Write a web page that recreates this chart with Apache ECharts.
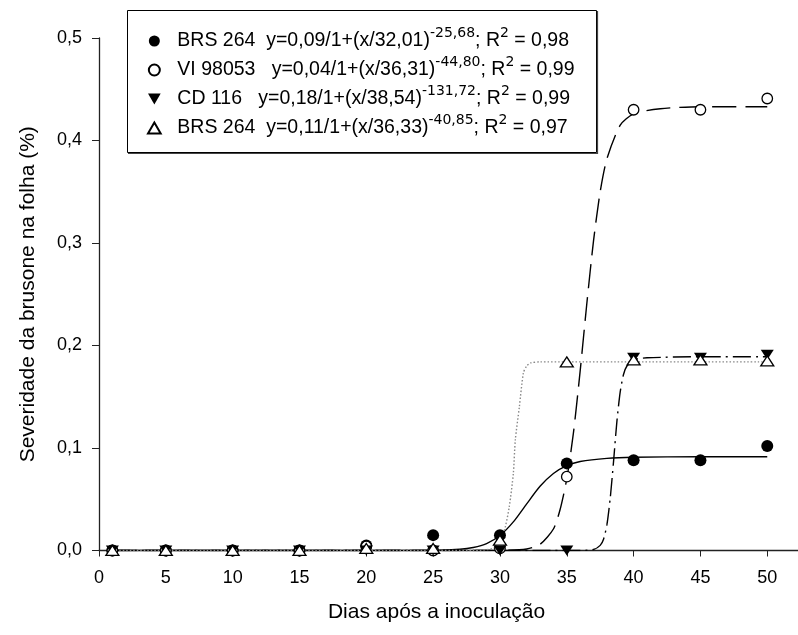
<!DOCTYPE html>
<html>
<head>
<meta charset="utf-8">
<script src="https://cdn.jsdelivr.net/npm/echarts@6/dist/echarts.min.js"></script>
<style>html,body{margin:0;padding:0;background:#fff}#c{width:798px;height:635px}</style>
</head>
<body>
<div id="c"></div>
<script>
// ---- observed data ----
const days = [1, 5, 10, 15, 20, 25, 30, 35, 40, 45, 50];
const brs264a = [0, 0, 0, 0, 0.005, 0.015, 0.015, 0.085, 0.088, 0.088, 0.102];
const vi98053 = [0, 0, 0, 0, 0.004, 0, 0.002, 0.072, 0.430, 0.430, 0.441];
const cd116   = [0, 0, 0, 0, 0, 0, 0, 0, 0.188, 0.188, 0.191];
const brs264b = [0, 0, 0, 0, 0.002, 0.002, 0.010, 0.184, 0.186, 0.186, 0.185];

// ---- fitted curves ----
const fitX1 = [1, 20, 25, 27, 28, 29, 30, 31, 32, 33, 34, 35, 36, 38, 40, 45, 50];
const fitY1 = [0, 0, 0.0002, 0.0012, 0.0029, 0.0067, 0.0146, 0.0279, 0.0455, 0.0626, 0.0751, 0.0827, 0.0868, 0.0899, 0.0910, 0.0915, 0.0915];
const fitX2 = [1, 30, 32, 33, 34, 34.5, 35, 35.5, 36, 36.5, 37, 37.5, 38, 39, 40, 42, 45, 50];
const fitY2 = [0, 0.0001, 0.0015, 0.006, 0.021, 0.040, 0.070, 0.115, 0.175, 0.241, 0.302, 0.350, 0.382, 0.415, 0.426, 0.431, 0.433, 0.433];
const fitX3 = [1, 36, 37, 37.5, 37.75, 38, 38.25, 38.5, 38.75, 39, 39.25, 39.5, 40, 41, 45, 50];
const fitY3 = [0, 0, 0.001, 0.005, 0.011, 0.025, 0.051, 0.087, 0.126, 0.155, 0.172, 0.180, 0.186, 0.188, 0.189, 0.189];
const fitX4 = [1, 28, 29.5, 30, 30.4, 30.7, 31, 31.15, 31.45, 31.75, 32, 32.3, 33, 35, 40, 45, 50];
const fitY4 = [0, 0, 0.002, 0.008, 0.023, 0.043, 0.075, 0.108, 0.140, 0.173, 0.180, 0.183, 0.184, 0.184, 0.184, 0.184, 0.184];

// ---- labels ----
const cultivars = ['BRS 264  ', 'VI 98053   ', 'CD 116   ', 'BRS 264  '];
const eqBase = ['y=0,09/1+(x/32,01)', 'y=0,04/1+(x/36,31)', 'y=0,18/1+(x/38,54)', 'y=0,11/1+(x/36,33)'];
const eqExp = ['-25,68', '-44,80', '-131,72', '-40,85'];
const r2 = ['0,98', '0,99', '0,99', '0,97'];
const xTitle = 'Dias após a inoculação';
const yTitle = 'Severidade da brusone na folha (%)';

const names = cultivars.map((c, i) => c + eqBase[i] + '^' + eqExp[i] + '; R2 = ' + r2[i]);
const richLabel = {};
names.forEach((n, i) => {
  richLabel[n] = '{a|' + cultivars[i] + eqBase[i] + '}{s|' + eqExp[i] + '}{a|; R}{s|2}{a| = ' + r2[i] + '}';
});

const pairs = (xs, ys) => xs.map((x, i) => [x, ys[i]]);
const FONT = 'Liberation Sans, Arial, sans-serif';
const TRI_UP = 'path://M6,0 L12,10.4 L0,10.4 Z';
const TRI_DOWN = 'path://M0,0 L12,0 L6,10.4 Z';

const markerDefs = [
  { data: brs264a, symbol: 'circle', size: 12, fill: '#000', icon: 'circle' },
  { data: vi98053, symbol: 'circle', size: 10.5, fill: '#fff', icon: 'circle' },
  { data: cd116, symbol: TRI_DOWN, size: [13, 11.5], fill: '#000', icon: TRI_DOWN },
  { data: brs264b, symbol: TRI_UP, size: [13, 11.5], fill: '#fff', icon: TRI_UP }
];
const fitDefs = [
  { xs: fitX1, ys: fitY1, color: '#000', type: 'solid' },
  { xs: fitX2, ys: fitY2, color: '#000', type: [24, 9] },
  { xs: fitX3, ys: fitY3, color: '#000', type: [18, 5, 2, 5] },
  { xs: fitX4, ys: fitY4, color: '#888', type: [1.5, 2] }
];

const series = [];
fitDefs.forEach((f, i) => {
  series.push({
    name: 'fit' + i, type: 'line', data: pairs(f.xs, f.ys), showSymbol: false,
    smooth: 0.25, silent: true, z: 2,
    lineStyle: { color: f.color, width: 1.4, type: f.type }
  });
});
markerDefs.forEach((m, i) => {
  series.push({
    name: names[i], type: 'scatter', data: pairs(days, m.data), symbol: m.symbol,
    symbolSize: m.size, symbolKeepAspect: true, clip: false, z: 5,
    itemStyle: { color: m.fill, borderColor: '#000', borderWidth: m.fill === '#fff' ? 1.3 : 0, opacity: 1 }
  });
});

const chart = echarts.init(document.getElementById('c'), null, { renderer: 'canvas' });
chart.setOption({
  animation: false,
  backgroundColor: '#fff',
  grid: { left: 99, right: 0, top: 38, bottom: 84.5, containLabel: false },
  xAxis: {
    type: 'value', min: 0, max: 52.3, interval: 5,
    name: xTitle, nameLocation: 'middle', nameGap: 51, nameMoveOverlap: false,
    nameTextStyle: { fontFamily: FONT, fontSize: 21, color: '#000', padding: [0, 24, 0, 0] },
    axisLine: { show: true, onZero: false, lineStyle: { color: '#222', width: 1.3 } },
    axisTick: { show: true, inside: false, length: 6, lineStyle: { color: '#222', width: 1 } },
    axisLabel: { fontFamily: FONT, fontSize: 18, color: '#000', margin: 19, showMaxLabel: false },
    splitLine: { show: false }
  },
  yAxis: {
    type: 'value', min: 0, max: 0.5, interval: 0.1,
    name: yTitle, nameLocation: 'middle', nameGap: 60.5, nameRotate: 90, nameMoveOverlap: false,
    nameTextStyle: { fontFamily: FONT, fontSize: 21, color: '#000' },
    axisLine: { show: true, onZero: false, lineStyle: { color: '#222', width: 1.3 } },
    axisTick: { show: true, inside: false, length: 7, lineStyle: { color: '#222', width: 1 } },
    axisLabel: { fontFamily: FONT, fontSize: 18, color: '#000', margin: 17,
      formatter: v => v.toFixed(1).replace('.', ',') },
    splitLine: { show: false }
  },
  legend: {
    data: names.map((n, i) => ({ name: n, icon: markerDefs[i].icon })),
    orient: 'vertical', left: 147, top: 26.5, padding: 0,
    itemWidth: 36, itemHeight: 11, itemGap: 0, symbolKeepAspect: true,
    selectedMode: false,
    formatter: n => richLabel[n],
    textStyle: {
      fontFamily: FONT, fontSize: 19.5, color: '#000', lineHeight: 29,
      rich: {
        a: { fontFamily: FONT, fontSize: 19.5, color: '#000', lineHeight: 29 },
        s: { fontFamily: 'DejaVu Sans', fontSize: 14, color: '#000', lineHeight: 13, verticalAlign: 'top' }
      }
    }
  },
  graphic: [
    { type: 'rect', z: 0, shape: { x: 127.5, y: 10.5, width: 469, height: 142 },
      style: { fill: 'none', stroke: '#000', lineWidth: 1 } },
    { type: 'line', z: 0, shape: { x1: 597.5, y1: 11, x2: 597.5, y2: 154 },
      style: { stroke: '#444', lineWidth: 1.2 } },
    { type: 'line', z: 0, shape: { x1: 128, y1: 153.5, x2: 598, y2: 153.5 },
      style: { stroke: '#444', lineWidth: 1.2 } }
  ],
  series: series
});
</script>
</body>
</html>
